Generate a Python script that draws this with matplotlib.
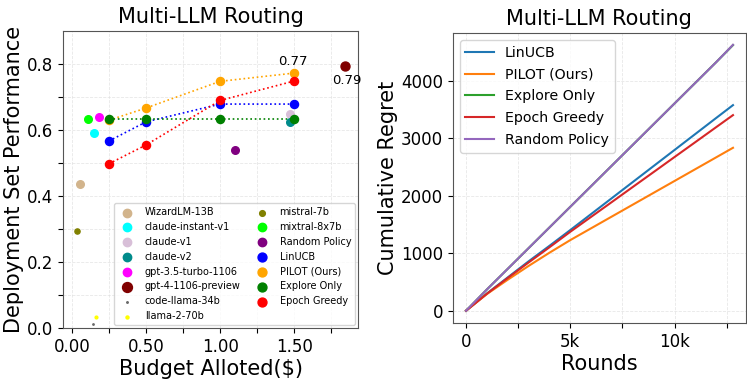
import numpy as np
import matplotlib
matplotlib.use('Agg')
import matplotlib.pyplot as plt

# ---- left panel: performance vs budget ----
llm_names = ['WizardLM-13B', 'claude-instant-v1', 'claude-v1', 'claude-v2',
             'gpt-3.5-turbo-1106', 'gpt-4-1106-preview', 'code-llama-34b',
             'llama-2-70b', 'mistral-7b', 'mixtral-8x7b']
llm_cost = [0.056, 0.149, 1.47, 1.47, 0.185, 1.845, 0.144, 0.164, 0.036, 0.108]
llm_perf = [0.438, 0.590, 0.648, 0.625, 0.639, 0.795, 0.012, 0.032, 0.293, 0.635]
llm_colors = ['tan', 'cyan', 'thistle', 'darkcyan', 'magenta', 'maroon',
              'dimgray', 'yellow', 'olive', 'lime']
llm_sizes = [30, 30, 30, 30, 30, 42, 1, 4, 14, 30]

random_cost = [1.10]
random_perf = [0.54]

budgets = [0.25, 0.5, 1.0, 1.5]
policy_names = ['LinUCB', 'PILOT (Ours)', 'Explore Only', 'Epoch Greedy']
policy_perf = {
    'LinUCB': [0.567, 0.625, 0.679, 0.679],
    'PILOT (Ours)': [0.630, 0.667, 0.748, 0.773],
    'Explore Only': [0.635, 0.635, 0.635, 0.635],
    'Epoch Greedy': [0.498, 0.555, 0.690, 0.749],
}
policy_colors = ['blue', 'orange', 'green', 'red']

# ---- right panel: cumulative regret ----
rounds = [0, 1000, 2000, 3000, 4000, 5000, 6000, 7000, 8000, 9000,
          10000, 11000, 12000, 12800]
regret = {
    'LinUCB': [0, 300, 580, 860, 1130, 1405, 1684, 1963, 2242, 2521,
               2800, 3079, 3358, 3580],
    'PILOT (Ours)': [0, 290, 540, 780, 1010, 1230, 1436, 1642, 1848, 2054,
                     2260, 2466, 2672, 2837],
    'Explore Only': [0, 370, 730, 1090, 1450, 1810, 2170, 2530, 2890, 3250,
                     3610, 3970, 4330, 4625],
    'Epoch Greedy': [0, 295, 570, 840, 1105, 1375, 1635, 1895, 2156, 2416,
                     2677, 2937, 3198, 3406],
    'Random Policy': [0, 370, 730, 1090, 1450, 1810, 2170, 2530, 2890, 3250,
                      3610, 3970, 4330, 4630],
}
regret_colors = ['C0', 'C1', 'C2', 'C3', 'C4']

fig = plt.figure(figsize=(7.47, 3.85), dpi=100)
ax1 = fig.add_axes([0.0843, 0.148, 0.395, 0.771])
ax2 = fig.add_axes([0.606, 0.161, 0.392, 0.753])

for name, c, y, col, s in zip(llm_names, llm_cost, llm_perf,
                              llm_colors, llm_sizes):
    ax1.scatter(c, y, color=col, s=s, label=name, zorder=3)
ax1.scatter(random_cost, random_perf, color='purple', s=30,
            label='Random Policy', zorder=3)
for name, col in zip(policy_names, policy_colors):
    ax1.plot(budgets, policy_perf[name], ls=':', c=col, lw=1.2, zorder=2)
    ax1.scatter(budgets, policy_perf[name], color=col, s=34, label=name,
                zorder=3)

ax1.annotate('0.77', (budgets[3], policy_perf['PILOT (Ours)'][3]),
             xytext=(-1, 6), textcoords='offset points', ha='center',
             fontsize=9.5)
ax1.annotate('0.79', (llm_cost[5], llm_perf[5]),
             xytext=(1, -13), textcoords='offset points', ha='center',
             fontsize=9.5)

ax1.set_xlim(-0.06, 1.93)
ax1.set_ylim(0, 0.9)
ax1.set_xticks(np.arange(0, 1.76, 0.25))
ax1.set_xticklabels(['0.00', '', '0.50', '', '1.00', '', '1.50', ''])
ax1.set_yticks(np.arange(0, 0.85, 0.1))
ax1.set_yticklabels(['0.0', '', '0.2', '', '0.4', '', '0.6', '', '0.8'])
ax1.tick_params(labelsize=12)
ax1.grid(True, ls='--', lw=0.6, color='#dddddd', alpha=0.7)
ax1.set_axisbelow(True)
ax1.set_xlabel('Budget Alloted($)', fontsize=15, labelpad=2)
ax1.set_ylabel('Deployment Set Performance', fontsize=15, labelpad=2)
ax1.set_title('Multi-LLM Routing', fontsize=15)
ax1.legend(ncol=2, fontsize=7, loc='lower right', borderaxespad=0.3,
           columnspacing=1.2, handletextpad=0.8, labelspacing=0.5,
           markerscale=1.1)

for name, col in zip(regret, regret_colors):
    ax2.plot(rounds, regret[name], c=col, lw=1.5, label=name)
ax2.set_xlim(-640, 13400)
ax2.set_ylim(-214, 4834)
ax2.set_xticks(np.arange(0, 12501, 2500))
ax2.set_xticklabels(['0', '', '5k', '', '10k', ''])
ax2.set_yticks([0, 1000, 2000, 3000, 4000])
ax2.tick_params(labelsize=12)
ax2.grid(True, ls='--', lw=0.6, color='#dddddd', alpha=0.7)
ax2.set_xlabel('Rounds', fontsize=15, labelpad=2)
ax2.set_ylabel('Cumulative Regret', fontsize=15, labelpad=2)
ax2.set_title('Multi-LLM Routing', fontsize=15)
ax2.legend(loc='upper left', fontsize=10.2, labelspacing=0.55)

for ax in (ax1, ax2):
    for sp in ax.spines.values():
        sp.set_color('#555555')

plt.savefig('out.png', dpi=100)
